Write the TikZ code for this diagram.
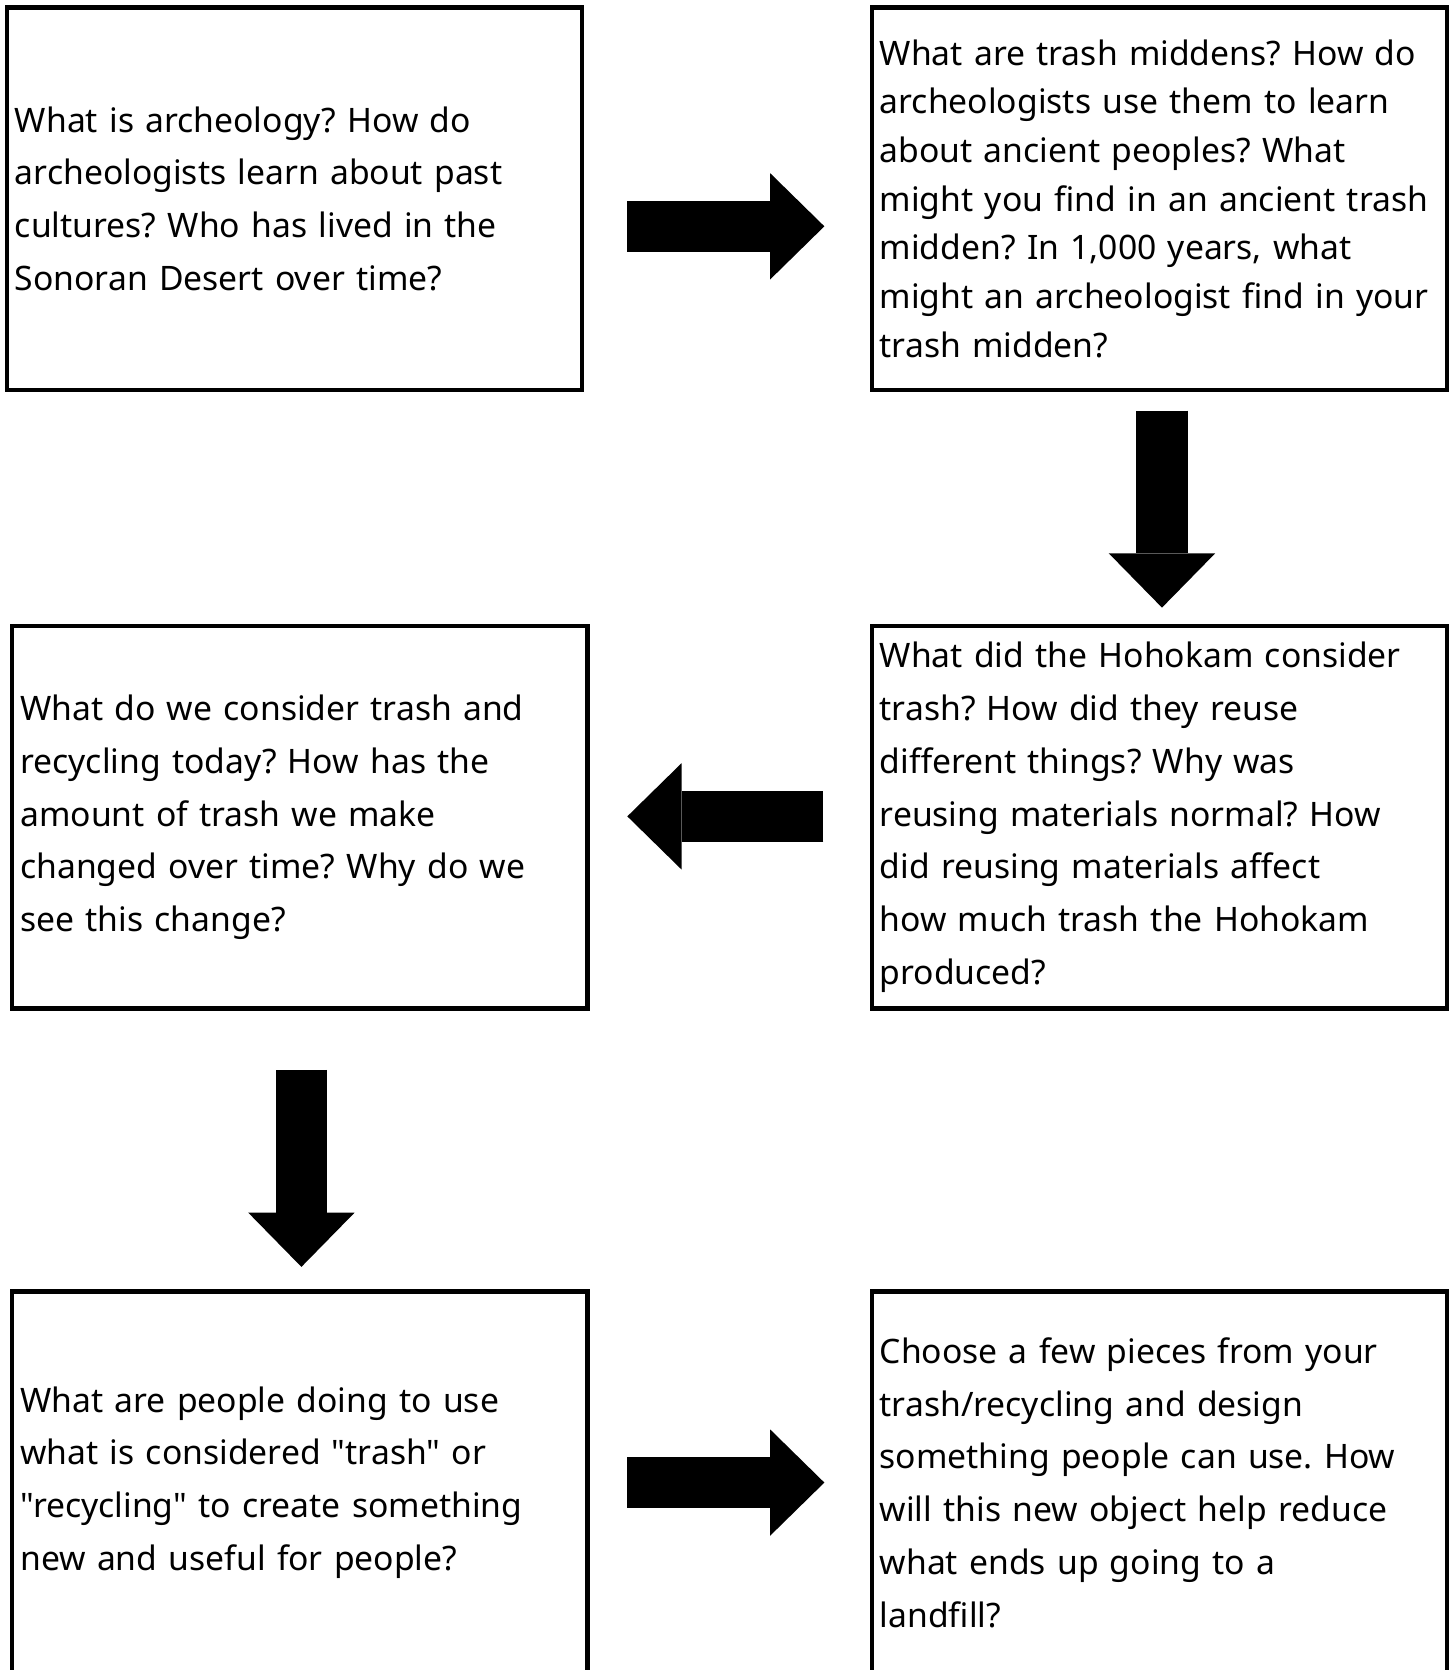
\documentclass[tikz,border=0pt]{standalone}
\usepackage{fontspec}
\setmainfont{Noto Sans}[Ligatures=TeXOff]
\usetikzlibrary{arrows.meta,positioning}

\tikzset{
  qbox/.style={draw, rectangle, line width=0.08cm, minimum width=10.8cm,
    minimum height=7.18cm, text width=10.5cm, inner xsep=0.15cm, align=left,
    font=\fontsize{18}{28.2}\selectfont\frenchspacing},
  tight/.style={font=\fontsize{18}{26}\selectfont\frenchspacing},
  flow/.style={line width=0.96cm,
    -{Triangle[length=1.02cm, width=2cm, line width=0pt]}},
}

\begin{document}
\begin{tikzpicture}
	\useasboundingbox (0,0) rectangle (27.28,-31.36);
	\clip (0,0) rectangle (27.28,-31.36);
	% question boxes
	\node[qbox] (q1) at (5.53,-3.73) {What is archeology? How do\\archeologists learn about past\\cultures? Who has lived in the\\Sonoran Desert over time?};
	\node[qbox, tight] (q2) at (21.77,-3.73) {What are trash middens? How do\\archeologists use them to learn\\about ancient peoples? What\\might you find in an ancient trash\\midden? In 1,000 years, what\\might an archeologist find in your\\trash midden?};
	\node[qbox] (q3) at (21.77,-15.35) {What did the Hohokam consider\\trash? How did they reuse\\different things? Why was\\reusing materials normal? How\\did reusing materials affect\\how much trash the Hohokam\\produced?};
	\node[qbox] (q4) at (5.63,-15.35) {What do we consider trash and\\recycling today? How has the\\amount of trash we make\\changed over time? Why do we\\see this change?};
	\node[qbox] (q5) at (5.63,-27.84) {What are people doing to use\\what is considered "trash" or\\"recycling" to create something\\new and useful for people?};
	\node[qbox] (q6) at (21.77,-27.84) {Choose a few pieces from your\\trash/recycling and design\\something people can use. How\\will this new object help reduce\\what ends up going to a\\landfill?};
	% block arrows
	\draw[flow] ([xshift=0.81cm, yshift=-0.52cm]q1.east) -- ([xshift=-0.85cm, yshift=-0.52cm]q2.west);
	\draw[flow] ([xshift=0.05cm, yshift=-0.35cm]q2.south) -- ([xshift=0.05cm, yshift=0.31cm]q3.north);
	\draw[flow] ([xshift=-0.87cm, yshift=0.02cm]q3.west) -- ([xshift=0.71cm, yshift=0.02cm]q4.east);
	\draw[flow] ([xshift=0.03cm, yshift=-1.11cm]q4.south) -- ([xshift=0.03cm, yshift=0.42cm]q5.north);
	\draw[flow] ([xshift=0.71cm]q5.east) -- ([xshift=-0.85cm]q6.west);
\end{tikzpicture}
\end{document}
